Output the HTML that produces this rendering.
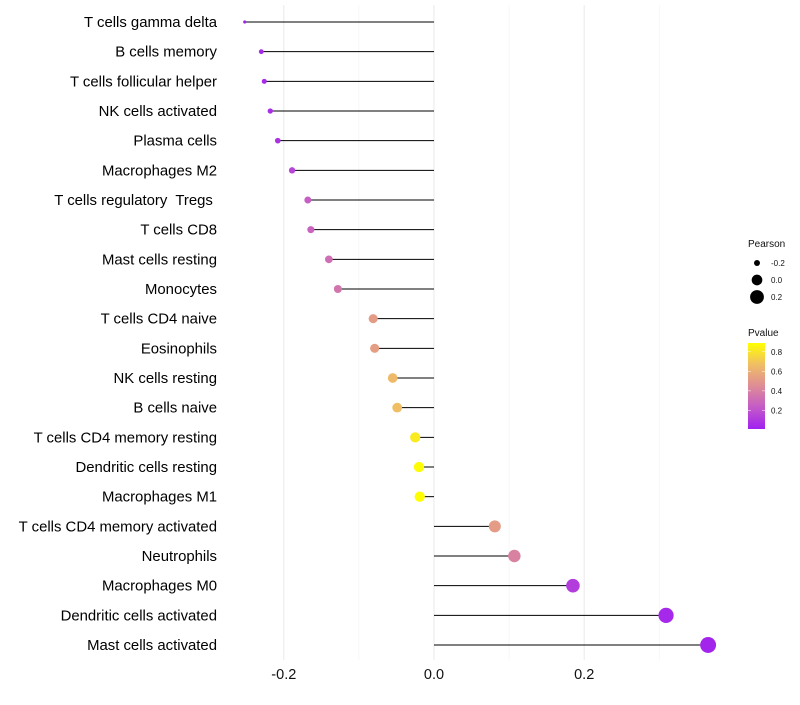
<!DOCTYPE html>
<html><head><meta charset="utf-8"><style>
body{margin:0;background:#fff;}
svg text{font-family:"Liberation Sans",sans-serif;white-space:pre;}
</style></head><body>
<svg id="chart" width="800" height="700"></svg>
<script>
const categories=["T cells gamma delta","B cells memory","T cells follicular helper","NK cells activated","Plasma cells","Macrophages M2","T cells regulatory  Tregs ","T cells CD8","Mast cells resting","Monocytes","T cells CD4 naive","Eosinophils","NK cells resting","B cells naive","T cells CD4 memory resting","Dendritic cells resting","Macrophages M1","T cells CD4 memory activated","Neutrophils","Macrophages M0","Dendritic cells activated","Mast cells activated"];
const pearson=[-0.252,-0.230,-0.226,-0.218,-0.208,-0.189,-0.168,-0.164,-0.140,-0.128,-0.081,-0.079,-0.055,-0.049,-0.025,-0.020,-0.019,0.081,0.107,0.185,0.309,0.365];
const pvalue=[0.02,0.04,0.05,0.06,0.08,0.15,0.25,0.27,0.32,0.35,0.52,0.53,0.65,0.67,0.82,0.88,0.9,0.52,0.40,0.12,0.04,0.03];
const xTicks=[-0.2,0.0,0.2];
const xTickLabels=["-0.2","0.0","0.2"];
const gridMinor=[-0.1,0.1,0.3];
const legendSizes=[-0.2,0.0,0.2];
const legendP=[0.8,0.6,0.4,0.2];

const NS="http://www.w3.org/2000/svg";
const svg=document.getElementById('chart');
function mk(t,a,p){const e=document.createElementNS(NS,t);for(const k in a)e.setAttribute(k,a[k]);(p||svg).appendChild(e);return e;}
const x=v=>434+v*751;
const y=i=>22+i*(623/21);
const pmin=Math.min(...pearson),pmax=Math.max(...pearson);
function rad(p){const t=Math.max(0,(p-pmin)/(pmax-pmin));return Math.sqrt(2.5+t*56)+(t>0?0.3:0);}
const stops=[[0,[160,32,240]],[0.25,[196,90,200]],[0.5,[222,140,150]],[0.75,[240,190,100]],[1,[255,255,0]]];
function col(p){const t=Math.max(0,Math.min(1,(p-0.01)/0.88));for(let i=1;i<stops.length;i++){if(t<=stops[i][0]){const a=stops[i-1],b=stops[i],u=(t-a[0])/(b[0]-a[0]);const c=a[1].map((v,k)=>Math.round(v+(b[1][k]-v)*u));return `rgb(${c})`;}}return 'rgb(255,255,0)';}

gridMinor.forEach(v=>{const l=mk('line',{x1:x(v),x2:x(v),y1:5,y2:660,stroke:'#f2f2f2','stroke-width':0.6});
});
xTicks.forEach((v,i)=>{const l=mk('line',{x1:x(v),x2:x(v),y1:5,y2:660,stroke:'#ebebeb','stroke-width':1.1});

const t=mk('text',{x:x(v),y:679,'text-anchor':'middle','font-size':14.5,fill:'#111'});t.textContent=xTickLabels[i];
});

categories.forEach((c,i)=>{
const t=mk('text',{x:217,y:y(i)+5,'text-anchor':'end','font-size':14.9,fill:'#000'});t.textContent=c;

const l=mk('line',{x1:x(0),x2:x(pearson[i]),y1:y(i),y2:y(i),stroke:'#000','stroke-width':1});

const d=mk('circle',{cx:x(pearson[i]),cy:y(i),r:rad(pearson[i]),fill:col(pvalue[i])});

});

const lt=mk('text',{x:748,y:247,'font-size':10,fill:'#111'});lt.textContent='Pearson';

legendSizes.forEach((v,i)=>{const cy=263+i*17;
const c=mk('circle',{cx:757,cy:cy,r:rad(v),fill:'#000'});
const t=mk('text',{x:771,y:cy+3,'font-size':8,fill:'#111'});t.textContent=v.toFixed(1);
});

const pt=mk('text',{x:748,y:336,'font-size':10,fill:'#111'});pt.textContent='Pvalue';

const defs=mk('defs',{});const g=mk('linearGradient',{id:'pg',x1:0,y1:1,x2:0,y2:0},defs);
stops.forEach(s=>mk('stop',{offset:s[0],'stop-color':`rgb(${s[1]})`},g));
const bar=mk('rect',{x:748,y:343,width:17,height:86,fill:'url(#pg)'});

const py=p=>429-(p-0.01)/0.88*86;
legendP.forEach(v=>{const t=mk('text',{x:771,y:py(v)+3,'font-size':8,fill:'#111'});t.textContent=v.toFixed(1);

mk('line',{x1:748,x2:751,y1:py(v),y2:py(v),stroke:'#fff','stroke-width':0.5});mk('line',{x1:762,x2:765,y1:py(v),y2:py(v),stroke:'#fff','stroke-width':0.5});});
</script>
</body></html>
